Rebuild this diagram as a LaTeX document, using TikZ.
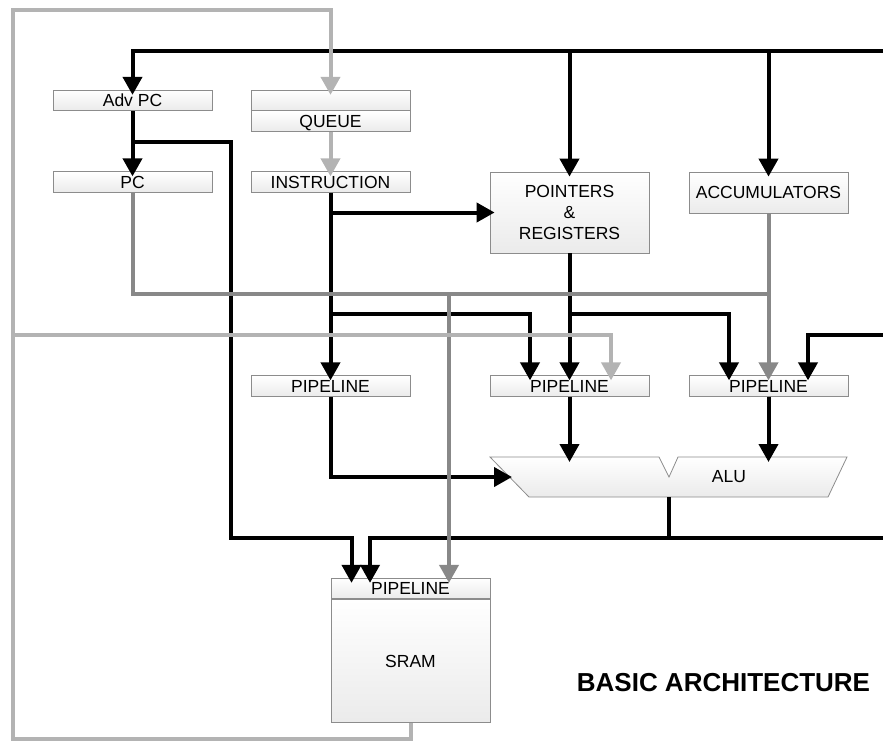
\documentclass[tikz,border=0pt]{standalone}
\usepackage{fontspec}
\setmainfont{Liberation Sans}
\usetikzlibrary{arrows.meta}
\definecolor{wirelight}{RGB}{179,179,179}
\definecolor{wiredark}{RGB}{136,136,136}

\begin{document}
\begin{tikzpicture}[x=1pt, y=-1pt,
  every node/.style={font=\fontsize{17.5}{21}\selectfont, inner sep=0pt},
  regbox/.style={draw=black!45, line width=0.8pt, top color=white, bottom color=black!8, minimum width=159pt, minimum height=20.5pt},
  reg/.style={regbox, text height=12.5pt, text depth=0pt},
  wire/.style={line width=4pt, black},
  gwire/.style={line width=4pt, wiredark},
  lwire/.style={line width=4pt, wirelight},
  arr/.style={-{Triangle[length=18pt,width=19pt]}, shorten >=-5pt}]
	\useasboundingbox (0,0) rectangle (883,740);

	\node[reg] (advpc) at (132.5,100.5) {Adv PC};
	\node[reg] (qtop) at (330.5,100.5) {};
	\node[reg] (queue) at (330.5,121) {QUEUE};
	\node[reg] (pc) at (132.5,182) {PC};
	\node[reg] (instr) at (330.5,182) {INSTRUCTION};
	\node[regbox, minimum height=81pt, align=center] (ptr) at (569.5,212.5) {POINTERS\\\&\\REGISTERS};
	\node[reg, minimum height=41pt] (acc) at (768.5,192.5) {ACCUMULATORS};
	\node[reg] (pipeA) at (330.5,386) {PIPELINE};
	\node[reg] (pipeB) at (569.5,386) {PIPELINE};
	\node[reg] (pipeC) at (768.5,386) {PIPELINE};
	\node[reg] (sramp) at (410.5,588.5) {PIPELINE};
	\node[regbox, minimum height=123pt, anchor=north] (sram) at (sramp.south) {SRAM};

	\draw[draw=black!45, line width=0.8pt, top color=white, bottom color=black!8]
		(490,457) -- (659,457) -- (669,477) -- (678,457) -- (847,457) -- (828,497) -- (529,497) -- cycle;
	\node (alu) at (729,477) {ALU};
	\coordinate (aluW) at (507,477);
	\coordinate (aluS) at (669,497);
	\coordinate (aluN) at (0,457);

	\coordinate (busN) at (883,50.5);
	\coordinate (busE) at (883,335);
	\coordinate (busS) at (883,537.5);
	\coordinate (j1) at (132.5,142);
	\coordinate (g1) at (768.5,294);
	\coordinate (g2) at (449,294);

	\draw[wire, arr] (busN) -| (advpc.north);
	\draw[wire, arr] (ptr.north |- busN) -- (ptr.north);
	\draw[wire, arr] (acc.north |- busN) -- (acc.north);
	\draw[wire, arr] (advpc.south) -- (pc.north);
	\draw[wire, arr] (j1) -| (231,537.5) -| ([xshift=-59pt]sramp.north);
	\draw[wire, arr] (instr.south) -- (pipeA.north);
	\draw[wire, arr] (instr.south |- ptr.west) -- (ptr.west);
	\draw[wire, arr] (instr.south |- 0,314) -| ([xshift=-39.5pt]pipeB.north);
	\draw[wire, arr] (ptr.south) -- (pipeB.north);
	\draw[wire, arr] (ptr.south |- 0,314) -| ([xshift=-39.5pt]pipeC.north);
	\draw[wire, arr] (busE) -| ([xshift=39.5pt]pipeC.north);
	\draw[wire, arr] (pipeA.south) |- (aluW);
	\draw[wire, arr] (pipeB.south) -- (pipeB.south |- aluN);
	\draw[wire, arr] (pipeC.south) -- (pipeC.south |- aluN);
	\draw[wire] (aluS) -- (aluS |- busS);
	\draw[wire, arr] (busS) -| ([xshift=-40.5pt]sramp.north);

	\draw[gwire] (pc.south) |- (g1);
	\draw[gwire, arr] (acc.south) -- (pipeC.north);
	\draw[gwire, arr] (g2) -- ([xshift=38.5pt]sramp.north);

	\draw[lwire, arr] (sram.south) -- ++(0,16) -| (13,10) -| (qtop.north);
	\draw[lwire, arr] (13,335) -| ([xshift=41.5pt]pipeB.north);
	\draw[lwire, arr] (queue.south) -- (instr.north);

	\node[font=\bfseries\fontsize{26}{30}\selectfont] (title) at (723.5,683) {BASIC ARCHITECTURE};
\end{tikzpicture}
\end{document}
